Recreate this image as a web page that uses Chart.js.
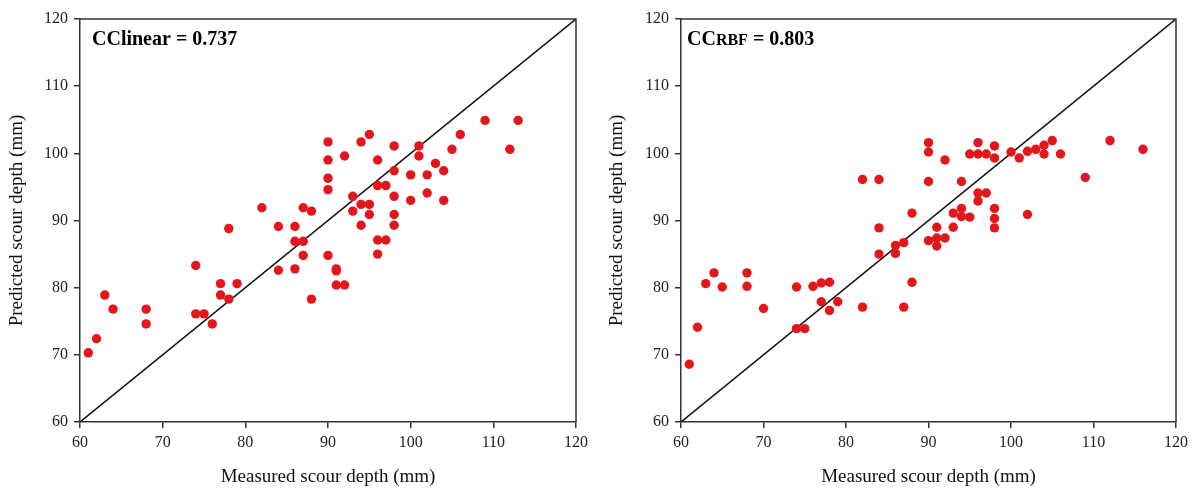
<!DOCTYPE html>
<html>
<head>
<meta charset="utf-8">
<script src="https://cdn.jsdelivr.net/npm/chart.js@4/dist/chart.umd.min.js"></script>
<style>
  html, body { margin: 0; padding: 0; background: #fff; }
  #wrap { position: relative; width: 1194px; height: 490px; }
  .panel { position: absolute; top: 0; height: 490px; }
</style>
</head>
<body>
<div id="wrap">
  <div class="panel" style="left:0;width:597px"><canvas id="c1" width="597" height="490"></canvas></div>
  <div class="panel" style="left:597px;width:597px"><canvas id="c2" width="597" height="490"></canvas></div>
</div>
<script>
// ---- data ----
const axisTicks = [60, 70, 80, 90, 100, 110, 120];
const linearMeasured = [61,62,63,64,68,68,74,74,75,76,77,77,78,78,79,82,84,84,86,86,86,87,87,87,88,88,
  90,90,90,90,90,91,91,91,92,92,93,93,94,94,94,95,95,95,96,96,96,96,97,97,98,98,98,98,98,100,100,101,101,102,102,103,104,104,105,106,109,112,113];
const linearPredicted = [70.3,72.4,78.9,76.8,76.8,74.6,83.3,76.1,76.1,74.6,80.6,78.9,88.8,78.3,80.6,91.9,89.1,82.6,89.1,86.9,82.8,91.9,86.9,84.8,91.4,78.3,
  101.7,99,96.3,94.6,84.8,82.8,82.5,80.4,80.4,99.6,93.6,91.4,101.7,92.4,89.3,102.8,92.4,90.9,99,95.2,87.1,85,95.2,87.1,101.1,97.4,93.6,90.9,89.3,96.8,93,101.1,99.6,96.8,94.1,98.5,97.4,93,100.6,102.8,104.9,100.6,104.9];
const rbfMeasured = [61,62,63,64,65,68,68,70,74,74,75,76,77,77,78,78,79,82,82,84,84,84,86,86,87,87,88,88,
  90,90,90,90,91,91,91,92,92,93,93,94,94,94,95,95,96,96,96,96,97,97,98,98,98,98,98,100,101,102,102,103,104,104,105,106,109,112,116];
const rbfPredicted = [68.6,74.1,80.6,82.2,80.1,82.2,80.2,76.9,80.1,73.9,73.9,80.2,80.7,77.9,80.8,76.6,77.9,96.1,77.1,96.1,88.9,85,86.3,85.1,86.7,77.1,91.1,80.8,
  101.6,100.2,95.8,87,89,87.4,86.2,87.4,99,91.1,89,95.8,91.8,90.6,90.5,99.9,101.6,99.9,94.1,92.9,99.9,94.1,101.1,99.3,91.8,90.3,88.9,100.2,99.3,100.3,90.9,100.6,101.2,99.9,101.9,99.9,96.4,101.9,100.6];
const identityLine = [60, 120];
const xTitle = 'Measured scour depth (mm)';
const yTitle = 'Predicted scour depth (mm)';

const SERIF = '"Liberation Serif", "Times New Roman", serif';
const AXIS = '#333333';
const RED = '#e3161b';

function pts(xs, ys) { return xs.map((x, i) => ({ x: x, y: ys[i] })); }

function framePlugin(label) {
  return {
    id: 'frameAndLabel',
    afterDraw(chart) {
      const { ctx, chartArea: a } = chart;
      ctx.save();
      ctx.strokeStyle = AXIS;
      ctx.lineWidth = 1.5;
      ctx.beginPath();
      ctx.moveTo(a.left, a.top);
      ctx.lineTo(a.right, a.top);
      ctx.lineTo(a.right, a.bottom);
      ctx.stroke();
      // annotation
      ctx.fillStyle = '#000';
      ctx.textBaseline = 'alphabetic';
      ctx.textAlign = 'left';
      let x = a.left + label.dx;
      const y = 45;
      label.parts.forEach(p => {
        ctx.font = 'bold ' + p.size + 'px ' + SERIF;
        ctx.fillText(p.text, x, y);
        x += ctx.measureText(p.text).width;
      });
      ctx.restore();
    }
  };
}

function makeChart(id, xs, ys, yAxisWidth, rightPad, titlePadTop, label) {
  const ctx = document.getElementById(id).getContext('2d');
  return new Chart(ctx, {
    type: 'scatter',
    data: {
      datasets: [
        {
          data: pts(xs, ys),
          backgroundColor: RED,
          borderColor: RED,
          borderWidth: 0,
          pointRadius: 4.7,
          pointHoverRadius: 4.7
        },
        {
          type: 'line',
          data: pts(identityLine, identityLine),
          borderColor: '#111',
          borderWidth: 1.5,
          pointRadius: 0,
          fill: false,
          tension: 0
        }
      ]
    },
    options: {
      responsive: false,
      animation: false,
      devicePixelRatio: 1,
      layout: { padding: { top: 19, right: rightPad, left: 0, bottom: 0 } },
      plugins: { legend: { display: false }, tooltip: { enabled: false } },
      scales: {
        x: {
          type: 'linear',
          min: axisTicks[0],
          max: axisTicks[axisTicks.length - 1],
          afterBuildTicks: s => { s.ticks = axisTicks.map(v => ({ value: v })); },
          afterFit: s => { s.height = 68; },
          ticks: { color: '#222', font: { family: SERIF, size: 16 }, padding: 5, maxRotation: 0 },
          grid: { drawOnChartArea: false, drawTicks: true, tickLength: 6, color: AXIS, lineWidth: 1.5 },
          border: { color: AXIS, width: 1.5 },
          title: { display: true, text: xTitle, color: '#111', font: { family: SERIF, size: 19 }, padding: { top: 0, bottom: 2 } }
        },
        y: {
          type: 'linear',
          min: axisTicks[0],
          max: axisTicks[axisTicks.length - 1],
          afterBuildTicks: s => { s.ticks = axisTicks.map(v => ({ value: v })); },
          afterFit: s => { s.width = yAxisWidth; },
          ticks: { color: '#222', font: { family: SERIF, size: 16 }, padding: 6 },
          grid: { drawOnChartArea: false, drawTicks: true, tickLength: 6, color: AXIS, lineWidth: 1.5 },
          border: { color: AXIS, width: 1.5 },
          title: { display: true, text: yTitle, color: '#111', font: { family: SERIF, size: 19 }, padding: { top: titlePadTop, bottom: 0 } }
        }
      }
    },
    plugins: [framePlugin(label)]
  });
}

makeChart('c1', linearMeasured, linearPredicted, 80, 21, 6,
  { dx: 12, parts: [{ text: 'CClinear = 0.737', size: 20 }] });
makeChart('c2', rbfMeasured, rbfPredicted, 84, 18, 9,
  { dx: 6, parts: [{ text: 'CC', size: 20 }, { text: 'RBF', size: 16 }, { text: ' = 0.803', size: 20 }] });
</script>
</body>
</html>
